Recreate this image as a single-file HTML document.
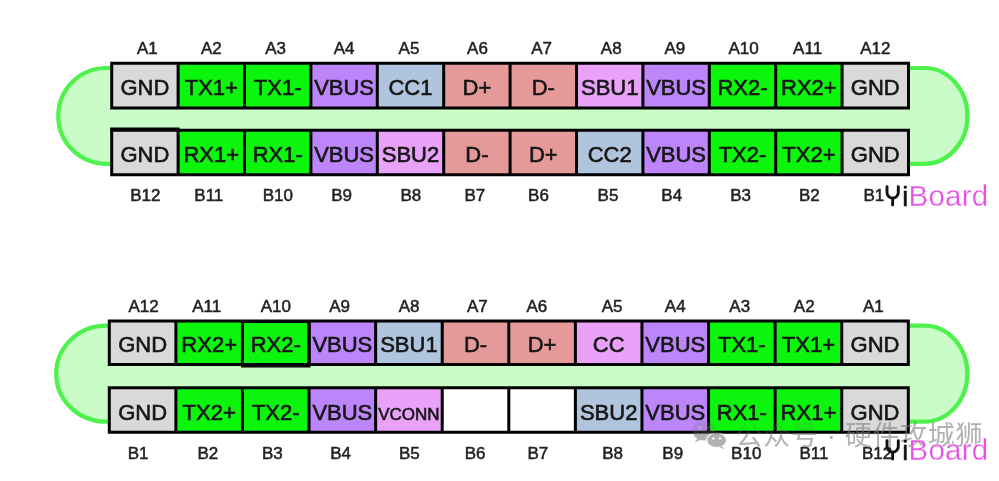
<!DOCTYPE html>
<html><head><meta charset="utf-8"><title>USB Type-C pinout</title>
<style>html,body{margin:0;padding:0;background:#fff}body{width:999px;height:481px;position:relative;overflow:hidden}</style>
</head><body>
<svg width="999" height="481" viewBox="0 0 999 481" style="position:absolute;left:0;top:0;font-family:'Liberation Sans',sans-serif;filter:blur(0.45px)">
<path d="M106.30 68H924.50A43 47.90 0 0 1 967.5 115.90A43 47.90 0 0 1 924.50 163.8H106.30A48 47.90 0 0 1 58.3 115.90A48 47.90 0 0 1 106.30 68Z" fill="#c9fcc6" stroke="#4df24d" stroke-width="4.2"/>
<rect x="111.70" y="63.2" width="66.45" height="44.90" fill="#d9d9d9"/>
<rect x="178.10" y="63.2" width="66.45" height="44.90" fill="#0cf50c"/>
<rect x="244.50" y="63.2" width="66.45" height="44.90" fill="#0cf50c"/>
<rect x="310.90" y="63.2" width="66.45" height="44.90" fill="#bd85fa"/>
<rect x="377.30" y="63.2" width="66.45" height="44.90" fill="#b0c4de"/>
<rect x="443.70" y="63.2" width="66.45" height="44.90" fill="#e59a99"/>
<rect x="510.10" y="63.2" width="66.45" height="44.90" fill="#e59a99"/>
<rect x="576.50" y="63.2" width="66.45" height="44.90" fill="#e9a2f7"/>
<rect x="642.90" y="63.2" width="66.45" height="44.90" fill="#bd85fa"/>
<rect x="709.30" y="63.2" width="66.45" height="44.90" fill="#0cf50c"/>
<rect x="775.70" y="63.2" width="66.45" height="44.90" fill="#0cf50c"/>
<rect x="842.10" y="63.2" width="66.45" height="44.90" fill="#d9d9d9"/>
<path d="M111.70 63.2H908.50V108.1H111.70ZM178.10 63.2V108.1M244.50 63.2V108.1M310.90 63.2V108.1M377.30 63.2V108.1M443.70 63.2V108.1M510.10 63.2V108.1M576.50 63.2V108.1M642.90 63.2V108.1M709.30 63.2V108.1M775.70 63.2V108.1M842.10 63.2V108.1" fill="none" stroke="#000" stroke-width="3" stroke-linejoin="miter"/>
<text x="144.90" y="95.27" font-size="22" text-anchor="middle" fill="#161616" stroke="#161616" stroke-width="0.6">GND</text>
<text x="211.30" y="95.27" font-size="22" text-anchor="middle" fill="#161616" stroke="#161616" stroke-width="0.6">TX1+</text>
<text x="277.70" y="95.27" font-size="22" text-anchor="middle" fill="#161616" stroke="#161616" stroke-width="0.6">TX1-</text>
<text x="344.10" y="95.27" font-size="22" text-anchor="middle" fill="#161616" stroke="#161616" stroke-width="0.6">VBUS</text>
<text x="410.50" y="95.27" font-size="22" text-anchor="middle" fill="#161616" stroke="#161616" stroke-width="0.6">CC1</text>
<text x="476.90" y="95.27" font-size="22" text-anchor="middle" fill="#161616" stroke="#161616" stroke-width="0.6">D+</text>
<text x="543.30" y="95.27" font-size="22" text-anchor="middle" fill="#161616" stroke="#161616" stroke-width="0.6">D-</text>
<text x="609.70" y="95.27" font-size="22" text-anchor="middle" fill="#161616" stroke="#161616" stroke-width="0.6">SBU1</text>
<text x="676.10" y="95.27" font-size="22" text-anchor="middle" fill="#161616" stroke="#161616" stroke-width="0.6">VBUS</text>
<text x="742.50" y="95.27" font-size="22" text-anchor="middle" fill="#161616" stroke="#161616" stroke-width="0.6">RX2-</text>
<text x="808.90" y="95.27" font-size="22" text-anchor="middle" fill="#161616" stroke="#161616" stroke-width="0.6">RX2+</text>
<text x="875.30" y="95.27" font-size="22" text-anchor="middle" fill="#161616" stroke="#161616" stroke-width="0.6">GND</text>
<rect x="111.70" y="130.2" width="66.45" height="44.60" fill="#d9d9d9"/>
<rect x="178.10" y="130.2" width="66.45" height="44.60" fill="#0cf50c"/>
<rect x="244.50" y="130.2" width="66.45" height="44.60" fill="#0cf50c"/>
<rect x="310.90" y="130.2" width="66.45" height="44.60" fill="#bd85fa"/>
<rect x="377.30" y="130.2" width="66.45" height="44.60" fill="#e9a2f7"/>
<rect x="443.70" y="130.2" width="66.45" height="44.60" fill="#e59a99"/>
<rect x="510.10" y="130.2" width="66.45" height="44.60" fill="#e59a99"/>
<rect x="576.50" y="130.2" width="66.45" height="44.60" fill="#b0c4de"/>
<rect x="642.90" y="130.2" width="66.45" height="44.60" fill="#bd85fa"/>
<rect x="709.30" y="130.2" width="66.45" height="44.60" fill="#0cf50c"/>
<rect x="775.70" y="130.2" width="66.45" height="44.60" fill="#0cf50c"/>
<rect x="842.10" y="130.2" width="66.45" height="44.60" fill="#d9d9d9"/>
<path d="M111.70 130.2H908.50V174.8H111.70ZM178.10 130.2V174.8M244.50 130.2V174.8M310.90 130.2V174.8M377.30 130.2V174.8M443.70 130.2V174.8M510.10 130.2V174.8M576.50 130.2V174.8M642.90 130.2V174.8M709.30 130.2V174.8M775.70 130.2V174.8M842.10 130.2V174.8" fill="none" stroke="#000" stroke-width="3" stroke-linejoin="miter"/>
<text x="144.90" y="161.62" font-size="22" text-anchor="middle" fill="#161616" stroke="#161616" stroke-width="0.6">GND</text>
<text x="211.30" y="161.62" font-size="22" text-anchor="middle" fill="#161616" stroke="#161616" stroke-width="0.6">RX1+</text>
<text x="277.70" y="161.62" font-size="22" text-anchor="middle" fill="#161616" stroke="#161616" stroke-width="0.6">RX1-</text>
<text x="344.10" y="161.62" font-size="22" text-anchor="middle" fill="#161616" stroke="#161616" stroke-width="0.6">VBUS</text>
<text x="410.50" y="161.62" font-size="22" text-anchor="middle" fill="#161616" stroke="#161616" stroke-width="0.6">SBU2</text>
<text x="476.90" y="161.62" font-size="22" text-anchor="middle" fill="#161616" stroke="#161616" stroke-width="0.6">D-</text>
<text x="543.30" y="161.62" font-size="22" text-anchor="middle" fill="#161616" stroke="#161616" stroke-width="0.6">D+</text>
<text x="609.70" y="161.62" font-size="22" text-anchor="middle" fill="#161616" stroke="#161616" stroke-width="0.6">CC2</text>
<text x="676.10" y="161.62" font-size="22" text-anchor="middle" fill="#161616" stroke="#161616" stroke-width="0.6">VBUS</text>
<text x="742.50" y="161.62" font-size="22" text-anchor="middle" fill="#161616" stroke="#161616" stroke-width="0.6">TX2-</text>
<text x="808.90" y="161.62" font-size="22" text-anchor="middle" fill="#161616" stroke="#161616" stroke-width="0.6">TX2+</text>
<text x="875.30" y="161.62" font-size="22" text-anchor="middle" fill="#161616" stroke="#161616" stroke-width="0.6">GND</text>
<path d="M111.70 130.2V129.1H178.10V130.2" fill="none" stroke="#000" stroke-width="3"/>
<text x="147.40" y="54" font-size="17" text-anchor="middle" fill="#222" stroke="#222" stroke-width="0.5">A1</text>
<text x="211.30" y="54" font-size="17" text-anchor="middle" fill="#222" stroke="#222" stroke-width="0.5">A2</text>
<text x="275.60" y="54" font-size="17" text-anchor="middle" fill="#222" stroke="#222" stroke-width="0.5">A3</text>
<text x="344.10" y="54" font-size="17" text-anchor="middle" fill="#222" stroke="#222" stroke-width="0.5">A4</text>
<text x="409.00" y="54" font-size="17" text-anchor="middle" fill="#222" stroke="#222" stroke-width="0.5">A5</text>
<text x="477.50" y="54" font-size="17" text-anchor="middle" fill="#222" stroke="#222" stroke-width="0.5">A6</text>
<text x="541.60" y="54" font-size="17" text-anchor="middle" fill="#222" stroke="#222" stroke-width="0.5">A7</text>
<text x="611.20" y="54" font-size="17" text-anchor="middle" fill="#222" stroke="#222" stroke-width="0.5">A8</text>
<text x="674.80" y="54" font-size="17" text-anchor="middle" fill="#222" stroke="#222" stroke-width="0.5">A9</text>
<text x="743.50" y="54" font-size="17" text-anchor="middle" fill="#222" stroke="#222" stroke-width="0.5">A10</text>
<text x="807.60" y="54" font-size="17" text-anchor="middle" fill="#222" stroke="#222" stroke-width="0.5">A11</text>
<text x="875.30" y="54" font-size="17" text-anchor="middle" fill="#222" stroke="#222" stroke-width="0.5">A12</text>
<text x="145.30" y="201.3" font-size="17" text-anchor="middle" fill="#222" stroke="#222" stroke-width="0.5">B12</text>
<text x="208.80" y="201.3" font-size="17" text-anchor="middle" fill="#222" stroke="#222" stroke-width="0.5">B11</text>
<text x="277.90" y="201.3" font-size="17" text-anchor="middle" fill="#222" stroke="#222" stroke-width="0.5">B10</text>
<text x="341.60" y="201.3" font-size="17" text-anchor="middle" fill="#222" stroke="#222" stroke-width="0.5">B9</text>
<text x="410.90" y="201.3" font-size="17" text-anchor="middle" fill="#222" stroke="#222" stroke-width="0.5">B8</text>
<text x="474.80" y="201.3" font-size="17" text-anchor="middle" fill="#222" stroke="#222" stroke-width="0.5">B7</text>
<text x="538.50" y="201.3" font-size="17" text-anchor="middle" fill="#222" stroke="#222" stroke-width="0.5">B6</text>
<text x="608.00" y="201.3" font-size="17" text-anchor="middle" fill="#222" stroke="#222" stroke-width="0.5">B5</text>
<text x="671.70" y="201.3" font-size="17" text-anchor="middle" fill="#222" stroke="#222" stroke-width="0.5">B4</text>
<text x="740.60" y="201.3" font-size="17" text-anchor="middle" fill="#222" stroke="#222" stroke-width="0.5">B3</text>
<text x="809.30" y="201.3" font-size="17" text-anchor="middle" fill="#222" stroke="#222" stroke-width="0.5">B2</text>
<text x="873.80" y="201.3" font-size="17" text-anchor="middle" fill="#222" stroke="#222" stroke-width="0.5">B1</text>
<g opacity="1">
<path d="M887.00 186.60v5.9a5.65 5.65 0 0 0 11.3 0v-5.9M892.65 198.00v7" fill="none" stroke="#111" stroke-width="2.9" stroke-linecap="round"/>
<text x="902.2" y="206.2" font-size="27" fill="#111" stroke="#111" stroke-width="0.5">i</text>
<text x="908.6" textLength="79.6" y="206.2" font-size="29.5" fill="#e650e7" stroke="#fff" stroke-width="0.3">Board</text>
</g>
<path d="M106.20 325.6H924.40A43 48.05 0 0 1 967.4 373.65A43 48.05 0 0 1 924.40 421.7H106.20A50 48.05 0 0 1 56.2 373.65A50 48.05 0 0 1 106.20 325.6Z" fill="#c9fcc6" stroke="#4df24d" stroke-width="4.2"/>
<rect x="109.30" y="320.9" width="66.63" height="43.70" fill="#d9d9d9"/>
<rect x="175.88" y="320.9" width="66.63" height="43.70" fill="#0cf50c"/>
<rect x="242.47" y="320.9" width="66.63" height="43.70" fill="#0cf50c"/>
<rect x="309.05" y="320.9" width="66.63" height="43.70" fill="#bd85fa"/>
<rect x="375.63" y="320.9" width="66.63" height="43.70" fill="#b0c4de"/>
<rect x="442.22" y="320.9" width="66.63" height="43.70" fill="#e59a99"/>
<rect x="508.80" y="320.9" width="66.63" height="43.70" fill="#e59a99"/>
<rect x="575.38" y="320.9" width="66.63" height="43.70" fill="#e9a2f7"/>
<rect x="641.97" y="320.9" width="66.63" height="43.70" fill="#bd85fa"/>
<rect x="708.55" y="320.9" width="66.63" height="43.70" fill="#0cf50c"/>
<rect x="775.13" y="320.9" width="66.63" height="43.70" fill="#0cf50c"/>
<rect x="841.72" y="320.9" width="66.63" height="43.70" fill="#d9d9d9"/>
<path d="M109.30 320.9H908.30V364.6H109.30ZM175.88 320.9V364.6M242.47 320.9V364.6M309.05 320.9V364.6M375.63 320.9V364.6M442.22 320.9V364.6M508.80 320.9V364.6M575.38 320.9V364.6M641.97 320.9V364.6M708.55 320.9V364.6M775.13 320.9V364.6M841.72 320.9V364.6" fill="none" stroke="#000" stroke-width="3" stroke-linejoin="miter"/>
<text x="142.59" y="352.37" font-size="22" text-anchor="middle" fill="#161616" stroke="#161616" stroke-width="0.6">GND</text>
<text x="209.17" y="352.37" font-size="22" text-anchor="middle" fill="#161616" stroke="#161616" stroke-width="0.6">RX2+</text>
<text x="275.76" y="352.37" font-size="22" text-anchor="middle" fill="#161616" stroke="#161616" stroke-width="0.6">RX2-</text>
<text x="342.34" y="352.37" font-size="22" text-anchor="middle" fill="#161616" stroke="#161616" stroke-width="0.6">VBUS</text>
<text x="408.93" y="352.37" font-size="22" text-anchor="middle" fill="#161616" stroke="#161616" stroke-width="0.6">SBU1</text>
<text x="475.51" y="352.37" font-size="22" text-anchor="middle" fill="#161616" stroke="#161616" stroke-width="0.6">D-</text>
<text x="542.09" y="352.37" font-size="22" text-anchor="middle" fill="#161616" stroke="#161616" stroke-width="0.6">D+</text>
<text x="608.67" y="352.37" font-size="22" text-anchor="middle" fill="#161616" stroke="#161616" stroke-width="0.6">CC</text>
<text x="675.26" y="352.37" font-size="22" text-anchor="middle" fill="#161616" stroke="#161616" stroke-width="0.6">VBUS</text>
<text x="741.84" y="352.37" font-size="22" text-anchor="middle" fill="#161616" stroke="#161616" stroke-width="0.6">TX1-</text>
<text x="808.42" y="352.37" font-size="22" text-anchor="middle" fill="#161616" stroke="#161616" stroke-width="0.6">TX1+</text>
<text x="875.01" y="352.37" font-size="22" text-anchor="middle" fill="#161616" stroke="#161616" stroke-width="0.6">GND</text>
<rect x="242.47" y="321.5" width="66.58" height="44.5" fill="none" stroke="#000" stroke-width="3"/>
<rect x="109.30" y="387.8" width="66.63" height="44.50" fill="#d9d9d9"/>
<rect x="175.88" y="387.8" width="66.63" height="44.50" fill="#0cf50c"/>
<rect x="242.47" y="387.8" width="66.63" height="44.50" fill="#0cf50c"/>
<rect x="309.05" y="387.8" width="66.63" height="44.50" fill="#bd85fa"/>
<rect x="375.63" y="387.8" width="66.63" height="44.50" fill="#e9a2f7"/>
<rect x="442.22" y="387.8" width="66.63" height="44.50" fill="#ffffff"/>
<rect x="508.80" y="387.8" width="66.63" height="44.50" fill="#ffffff"/>
<rect x="575.38" y="387.8" width="66.63" height="44.50" fill="#b0c4de"/>
<rect x="641.97" y="387.8" width="66.63" height="44.50" fill="#bd85fa"/>
<rect x="708.55" y="387.8" width="66.63" height="44.50" fill="#0cf50c"/>
<rect x="775.13" y="387.8" width="66.63" height="44.50" fill="#0cf50c"/>
<rect x="841.72" y="387.8" width="66.63" height="44.50" fill="#d9d9d9"/>
<path d="M109.30 387.8H908.30V432.3H109.30ZM175.88 387.8V432.3M242.47 387.8V432.3M309.05 387.8V432.3M375.63 387.8V432.3M442.22 387.8V432.3M508.80 387.8V432.3M575.38 387.8V432.3M641.97 387.8V432.3M708.55 387.8V432.3M775.13 387.8V432.3M841.72 387.8V432.3" fill="none" stroke="#000" stroke-width="3" stroke-linejoin="miter"/>
<text x="142.59" y="419.87" font-size="22" text-anchor="middle" fill="#161616" stroke="#161616" stroke-width="0.6">GND</text>
<text x="209.17" y="419.87" font-size="22" text-anchor="middle" fill="#161616" stroke="#161616" stroke-width="0.6">TX2+</text>
<text x="275.76" y="419.87" font-size="22" text-anchor="middle" fill="#161616" stroke="#161616" stroke-width="0.6">TX2-</text>
<text x="342.34" y="419.87" font-size="22" text-anchor="middle" fill="#161616" stroke="#161616" stroke-width="0.6">VBUS</text>
<text x="408.93" y="419.87" font-size="17" text-anchor="middle" fill="#161616" stroke="#161616" stroke-width="0.6">VCONN</text>
<text x="608.67" y="419.87" font-size="22" text-anchor="middle" fill="#161616" stroke="#161616" stroke-width="0.6">SBU2</text>
<text x="675.26" y="419.87" font-size="22" text-anchor="middle" fill="#161616" stroke="#161616" stroke-width="0.6">VBUS</text>
<text x="741.84" y="419.87" font-size="22" text-anchor="middle" fill="#161616" stroke="#161616" stroke-width="0.6">RX1-</text>
<text x="808.42" y="419.87" font-size="22" text-anchor="middle" fill="#161616" stroke="#161616" stroke-width="0.6">RX1+</text>
<text x="875.01" y="419.87" font-size="22" text-anchor="middle" fill="#161616" stroke="#161616" stroke-width="0.6">GND</text>
<text x="143.59" y="312.2" font-size="17" text-anchor="middle" fill="#222" stroke="#222" stroke-width="0.5">A12</text>
<text x="206.67" y="312.2" font-size="17" text-anchor="middle" fill="#222" stroke="#222" stroke-width="0.5">A11</text>
<text x="275.76" y="312.2" font-size="17" text-anchor="middle" fill="#222" stroke="#222" stroke-width="0.5">A10</text>
<text x="339.64" y="312.2" font-size="17" text-anchor="middle" fill="#222" stroke="#222" stroke-width="0.5">A9</text>
<text x="409.12" y="312.2" font-size="17" text-anchor="middle" fill="#222" stroke="#222" stroke-width="0.5">A8</text>
<text x="477.41" y="312.2" font-size="17" text-anchor="middle" fill="#222" stroke="#222" stroke-width="0.5">A7</text>
<text x="536.79" y="312.2" font-size="17" text-anchor="middle" fill="#222" stroke="#222" stroke-width="0.5">A6</text>
<text x="612.07" y="312.2" font-size="17" text-anchor="middle" fill="#222" stroke="#222" stroke-width="0.5">A5</text>
<text x="675.26" y="312.2" font-size="17" text-anchor="middle" fill="#222" stroke="#222" stroke-width="0.5">A4</text>
<text x="739.74" y="312.2" font-size="17" text-anchor="middle" fill="#222" stroke="#222" stroke-width="0.5">A3</text>
<text x="804.22" y="312.2" font-size="17" text-anchor="middle" fill="#222" stroke="#222" stroke-width="0.5">A2</text>
<text x="873.31" y="312.2" font-size="17" text-anchor="middle" fill="#222" stroke="#222" stroke-width="0.5">A1</text>
<text x="138.19" y="458.9" font-size="17" text-anchor="middle" fill="#222" stroke="#222" stroke-width="0.5">B1</text>
<text x="207.87" y="458.9" font-size="17" text-anchor="middle" fill="#222" stroke="#222" stroke-width="0.5">B2</text>
<text x="272.36" y="458.9" font-size="17" text-anchor="middle" fill="#222" stroke="#222" stroke-width="0.5">B3</text>
<text x="340.64" y="458.9" font-size="17" text-anchor="middle" fill="#222" stroke="#222" stroke-width="0.5">B4</text>
<text x="409.32" y="458.9" font-size="17" text-anchor="middle" fill="#222" stroke="#222" stroke-width="0.5">B5</text>
<text x="475.11" y="458.9" font-size="17" text-anchor="middle" fill="#222" stroke="#222" stroke-width="0.5">B6</text>
<text x="537.89" y="458.9" font-size="17" text-anchor="middle" fill="#222" stroke="#222" stroke-width="0.5">B7</text>
<text x="612.67" y="458.9" font-size="17" text-anchor="middle" fill="#222" stroke="#222" stroke-width="0.5">B8</text>
<text x="672.76" y="458.9" font-size="17" text-anchor="middle" fill="#222" stroke="#222" stroke-width="0.5">B9</text>
<text x="746.24" y="458.9" font-size="17" text-anchor="middle" fill="#222" stroke="#222" stroke-width="0.5">B10</text>
<text x="813.92" y="458.9" font-size="17" text-anchor="middle" fill="#222" stroke="#222" stroke-width="0.5">B11</text>
<text x="877.11" y="458.9" font-size="17" text-anchor="middle" fill="#222" stroke="#222" stroke-width="0.5">B12</text>
<defs>
<mask id="wmMask" maskUnits="userSpaceOnUse" x="0" y="0" width="999" height="481"><rect width="999" height="481" fill="#fff"/><rect x="0" y="380" width="841.8" height="53.3" fill="#6a6a6a"/></mask>
</defs>
<g mask="url(#wmMask)"><g fill="#7a7a7a" opacity="0.58">
<ellipse cx="704" cy="430.8" rx="11.4" ry="9.8"/>
<path d="M697.5 438l-2.8 4.6 6.2-2.8z"/>
<ellipse cx="716.6" cy="440.3" rx="10" ry="7.4" stroke="#fff" stroke-width="1.2"/>
<path d="M722 446.2l2.6 3-5.2-1.9z"/>
<circle cx="700.2" cy="427.6" r="1.4" fill="#fff"/><circle cx="708" cy="427.6" r="1.4" fill="#fff"/>
<circle cx="713.4" cy="438.4" r="1.2" fill="#fff"/><circle cx="720" cy="438.4" r="1.2" fill="#fff"/>
<text x="735.5" y="444.6" font-size="27" style="font-family:'Liberation Sans','Noto Sans CJK SC',sans-serif" textLength="247">公众号 · 硬件攻城狮</text>
</g></g>
<g opacity="1">
<path d="M887.00 440.60v5.9a5.65 5.65 0 0 0 11.3 0v-5.9M892.65 452.00v7" fill="none" stroke="#111" stroke-width="2.9" stroke-linecap="round"/>
<text x="902.2" y="460.2" font-size="27" fill="#111" stroke="#111" stroke-width="0.5">i</text>
<text x="908.6" textLength="79.6" y="460.2" font-size="29.5" fill="#e650e7" stroke="#fff" stroke-width="0.3">Board</text>
</g>
</svg>
</body></html>
